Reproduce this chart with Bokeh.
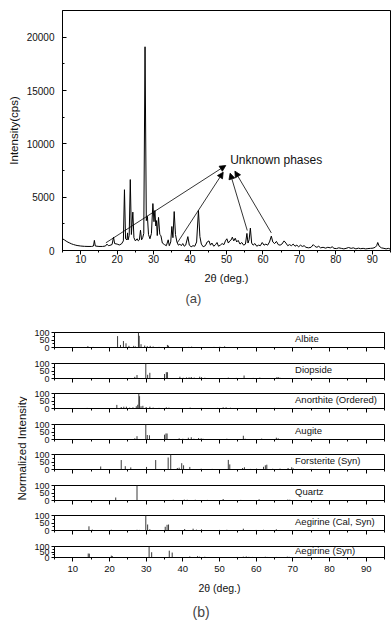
import math
from bokeh.plotting import figure
from bokeh.models import Range1d, FixedTicker, Label, Arrow, NormalHead, Title, ColumnDataSource
from bokeh.layouts import column, row
from bokeh.embed import file_html
from bokeh.resources import INLINE
from bokeh.core.properties import value

FONT = "Liberation Sans"

# ---------------- (a) measured XRD pattern ----------------
two_theta = [5.0, 5.5, 6.0, 6.5, 7.0, 7.5, 8.0, 8.5, 9.0, 10.0, 11.0, 12.0, 13.0, 13.5, 13.75, 14.0,
             15.0, 16.0, 16.8, 17.2, 17.6, 18.0, 18.6, 19.0, 19.3, 20.0, 20.6, 21.2, 21.7, 22.0, 22.3,
             22.7, 22.85, 23.0, 23.3, 23.6, 23.9, 24.3, 24.6, 25.0, 25.5, 25.8, 26.1, 26.4, 26.7, 27.0,
             27.3, 27.65, 28.0, 28.3, 28.6, 29.0, 29.4, 29.8, 30.1, 30.35, 30.6, 30.8, 31.0, 31.35, 31.7,
             32.0, 32.4, 33.0, 33.5, 34.0, 34.3, 34.7, 35.0, 35.3, 35.65, 36.0, 36.4, 36.8, 37.2, 37.6,
             38.0, 38.4, 38.8, 39.4, 39.8, 40.3, 40.8, 41.3, 41.8, 42.3, 42.7, 43.1, 43.6, 44.2, 44.7,
             45.2, 45.6, 46.0, 46.5, 47.0, 47.4, 47.8, 48.3, 48.8, 49.3, 49.7, 50.1, 50.5, 50.9, 51.3,
             51.6, 52.0, 52.4, 52.8, 53.2, 53.7, 54.2, 54.7, 55.2, 55.6, 55.9, 56.2, 56.55, 56.9, 57.3,
             57.8, 58.3, 58.8, 59.3, 59.8, 60.3, 60.8, 61.3, 61.8, 62.3, 62.7, 63.2, 63.7, 64.2, 64.7,
             65.2, 65.8, 66.3, 66.8, 67.3, 67.8, 68.3, 68.8, 69.3, 69.8, 70.3, 70.8, 71.3, 71.8, 72.5,
             73.2, 73.8, 74.3, 74.8, 75.3, 75.8, 76.5, 77.2, 77.8, 78.5, 79.0, 79.5, 80.2, 80.8, 81.5,
             82.2, 82.8, 83.5, 84.2, 84.8, 85.5, 86.2, 86.8, 87.5, 88.2, 88.8, 89.5, 90.2, 90.8, 91.2,
             91.5, 91.9, 92.5, 93.2, 93.8, 94.4, 95.0]
intensity = [1100, 1000, 880, 780, 700, 620, 560, 510, 470, 420, 390, 380, 380, 420, 950, 420,
             380, 380, 420, 600, 450, 480, 560, 1250, 650, 600, 520, 620, 900, 5700, 1100,
             1000, 1650, 1000, 1400, 6650, 1500, 3600, 1200, 900, 1100, 900, 1000, 1900, 1000, 1200,
             1600, 19100, 2800, 3200, 1500, 1100, 1600, 4400, 2700, 3750, 2300, 2800, 1400, 3100, 1500,
             1400, 700, 550, 450, 1000, 450, 800, 2250, 1200, 3650, 1500, 800, 500, 600, 450,
             650, 400, 500, 1300, 500, 350, 450, 400, 800, 3750, 1300, 600, 350, 450, 800,
             900, 500, 700, 400, 550, 750, 400, 500, 650, 550, 900, 1100, 700, 900, 1000,
             1250, 900, 1150, 800, 950, 600, 750, 500, 600, 1600, 700, 1000, 2100, 700, 500,
             650, 400, 500, 450, 750, 500, 600, 500, 800, 1350, 800, 650, 850, 550, 500,
             600, 900, 700, 450, 550, 450, 600, 400, 500, 350, 500, 380, 450, 300, 250,
             300, 550, 380, 300, 400, 250, 300, 220, 300, 250, 350, 200, 180, 250, 200,
             150, 200, 280, 200, 250, 150, 220, 170, 200, 150, 180, 200, 220, 300, 450,
             750, 400, 250, 200, 150, 200, 120]

x_major = [10, 20, 30, 40, 50, 60, 70, 80, 90]
x_minor = [5, 15, 25, 35, 45, 55, 65, 75, 85, 95]
y_major_a = [0, 5000, 10000, 15000, 20000]
y_minor_a = [2500, 7500, 12500, 17500]

annot_text = "Unknown phases"
annot_x = 51.0
annot_y = 8440
arrow_x_start = [16.9, 36.5, 55.7, 62.3]
arrow_y_start = [720, 720, 1875, 1650]
arrow_x_end = [49.8, 49.1, 51.0, 52.3]
arrow_y_end = [7970, 7340, 7250, 7440]

# ---------------- (b) reference stick patterns ----------------
phase_names = ["Albite", "Diopside", "Anorthite (Ordered)", "Augite", "Forsterite (Syn)",
               "Quartz", "Aegirine (Cal, Syn)", "Aegirine (Syn)"]

albite_pos = [14.1, 15.5, 22.2, 23.0, 23.8, 24.5, 25.3, 26.6, 27.1, 27.9, 28.1, 28.6, 29.6, 30.3, 31.1,
              31.9, 33.5, 35.8, 36.1, 37.8, 39.5, 41.6, 42.4, 44.6, 46.3, 48.5, 50.1, 51.4, 53.4, 56.2,
              60.4, 64.5, 69.8]
albite_int = [9, 4, 76, 17, 43, 28, 11, 11, 7, 100, 78, 22, 13, 9, 11,
              7, 4, 17, 12, 3, 3, 4, 6, 3, 3, 4, 5, 8, 3, 3,
              3, 2, 2]

diopside_pos = [26.9, 27.5, 29.9, 30.4, 31.0, 35.0, 35.5, 35.8, 39.2, 40.1, 41.0, 41.7, 42.3, 43.1, 44.6,
                45.1, 46.0, 48.3, 50.5, 52.4, 54.6, 56.7, 59.2, 61.0, 65.6, 66.0, 66.5, 71.4, 75.5, 85.5,
                90.6]
diopside_int = [11, 23, 100, 25, 38, 30, 42, 42, 12, 5, 7, 8, 10, 6, 12,
                9, 5, 3, 3, 6, 4, 20, 4, 6, 8, 10, 5, 3, 3, 3,
                3]

anorthite_pos = [13.9, 17.0, 19.0, 22.0, 23.2, 23.9, 24.6, 25.5, 26.4, 27.3, 27.7, 28.0, 28.2, 28.6, 29.1,
                 30.0, 31.0, 31.9, 33.5, 35.5, 36.2, 37.5, 42.0, 45.0, 49.5, 51.0, 51.8, 53.0, 57.0, 62.0,
                 65.0, 70.0, 74.0, 80.0, 86.0, 91.0]
anorthite_int = [4, 2, 3, 24, 10, 12, 12, 6, 8, 15, 25, 100, 82, 15, 18,
                 10, 12, 6, 4, 8, 6, 3, 6, 4, 4, 8, 8, 5, 3, 3,
                 4, 3, 3, 3, 3, 3]

augite_pos = [26.9, 27.5, 29.9, 30.3, 30.9, 35.0, 35.4, 35.7, 39.0, 40.0, 41.5, 42.3, 43.0, 44.3, 45.0,
              45.5, 52.0, 56.5, 57.0, 61.5, 65.5, 66.0, 91.0]
augite_int = [8, 22, 100, 30, 28, 32, 40, 40, 8, 5, 12, 15, 5, 10, 8,
              5, 5, 25, 5, 6, 12, 8, 3]

forsterite_pos = [17.6, 23.2, 24.3, 25.8, 30.1, 32.6, 36.0, 36.7, 38.5, 39.0, 39.7, 40.2, 41.9, 45.0, 48.0,
                  52.4, 52.8, 56.3, 56.8, 58.5, 60.1, 62.0, 62.5, 62.9, 64.5, 66.5, 68.7, 69.7, 70.1, 73.0,
                  75.0]
forsterite_int = [20, 63, 22, 14, 17, 63, 80, 100, 10, 12, 42, 28, 17, 5, 4,
                  64, 34, 10, 15, 4, 6, 18, 28, 32, 5, 6, 10, 15, 8, 4,
                  4]

quartz_pos = [21.7, 27.5, 37.4, 40.4, 41.2, 43.4, 46.7, 51.0, 55.8, 60.8, 64.9, 68.6, 69.0, 69.2, 74.4,
              76.6, 80.8, 82.4]
quartz_int = [20, 100, 5, 6, 5, 5, 4, 10, 4, 8, 3, 6, 4, 5, 2,
              3, 3, 3]

aegirine_cal_pos = [14.4, 15.3, 20.5, 27.5, 28.2, 29.9, 30.4, 31.0, 35.2, 35.7, 36.1, 40.5, 42.8, 43.7, 45.1,
                    50.0, 52.0, 56.5, 60.0, 62.0, 65.5, 72.0, 75.0, 80.0]
aegirine_cal_int = [28, 6, 5, 5, 4, 100, 40, 8, 25, 38, 40, 10, 12, 6, 8,
                    4, 5, 12, 4, 5, 8, 3, 3, 3]

aegirine_syn_pos = [14.2, 14.5, 20.5, 20.8, 30.8, 31.5, 36.3, 37.1, 41.9, 44.0, 44.5, 46.0, 54.8, 56.5, 57.3,
                    58.0, 59.0, 62.5, 63.0, 65.5, 68.5, 69.0, 73.0, 74.0, 76.0, 81.0, 87.0]
aegirine_syn_int = [36, 35, 17, 12, 100, 48, 62, 45, 10, 12, 8, 7, 5, 8, 10,
                    6, 5, 7, 5, 5, 8, 6, 4, 5, 4, 3, 3]

phase_pos = [albite_pos, diopside_pos, anorthite_pos, augite_pos, forsterite_pos,
             quartz_pos, aegirine_cal_pos, aegirine_syn_pos]
phase_int = [albite_int, diopside_int, anorthite_int, augite_int, forsterite_int,
             quartz_int, aegirine_cal_int, aegirine_syn_int]
y_major_b = [0, 50, 100]
y_minor_b = [25, 75]
name_x = 70.6
name_y = 62


def base_axis_style(ax):
    ax.axis_line_color = "black"
    ax.major_tick_line_color = "black"
    ax.minor_tick_line_color = "black"
    ax.major_label_text_font = FONT
    ax.major_label_text_color = "#111111"
    ax.axis_label_text_font = FONT
    ax.axis_label_text_font_style = "normal"
    ax.axis_label_text_color = "#111111"


# ---------------- figure (a) ----------------
pa = figure(width=392, height=324, x_range=Range1d(5, 95), y_range=Range1d(0, 22500),
            output_backend="svg", toolbar_location=None,
            min_border_left=62, min_border_right=2, min_border_top=10, min_border_bottom=74)
pa.grid.visible = False
pa.outline_line_color = "black"
pa.outline_line_alpha = 1.0
pa.line(two_theta, intensity, line_color="black", line_width=1)

xa = pa.xaxis[0]
base_axis_style(xa)
xa.ticker = FixedTicker(ticks=x_major, minor_ticks=x_minor)
xa.major_tick_out = 4
xa.major_tick_in = 0
xa.minor_tick_out = 2
xa.minor_tick_in = 0
xa.major_label_standoff = 0
xa.major_label_text_font_size = "10px"
xa.axis_label = "2θ (deg.)"
xa.axis_label_text_font_size = "11px"
xa.axis_label_standoff = 6

ya = pa.yaxis[0]
base_axis_style(ya)
ya.ticker = FixedTicker(ticks=y_major_a, minor_ticks=y_minor_a)
ya.major_tick_in = 4
ya.major_tick_out = 0
ya.minor_tick_in = 2
ya.minor_tick_out = 0
ya.major_label_standoff = 8
ya.major_label_text_font_size = "10px"
ya.axis_label = "Intensity(cps)"
ya.axis_label_text_font_size = "11.5px"
ya.axis_label_standoff = 4

arrow_src = ColumnDataSource(dict(x0=arrow_x_start, y0=arrow_y_start, x1=arrow_x_end, y1=arrow_y_end))
pa.add_layout(Arrow(source=arrow_src, x_start="x0", y_start="y0", x_end="x1", y_end="y1",
                    line_color="black", line_width=0.8,
                    end=NormalHead(size=6, fill_color="black", line_color="black", line_width=0.8)))
pa.add_layout(Label(x=annot_x, y=annot_y, text=annot_text, text_font=FONT, text_font_size="12px",
                    text_baseline="middle", text_align="left", text_color="#111111"))
pa.add_layout(Title(text="(a)", align="left", offset=123, text_font=FONT, text_font_size="13px",
                    text_font_style="normal", standoff=5), "below")

# ---------------- figure (b) ----------------
pl = figure(width=27, height=300, x_range=Range1d(0, 1), y_range=Range1d(0, 1),
            output_backend="svg", toolbar_location=None, x_axis_type=None, y_axis_type=None,
            min_border=0)
pl.grid.visible = False
pl.outline_line_color = None
pl.add_layout(Label(x=21, y=176, x_units="screen", y_units="screen", text="Normalized Intensity",
                    angle=math.pi / 2, text_align="center", text_baseline="middle",
                    text_font=FONT, text_font_size="11.5px", text_color="#111111"))

x_range_b = Range1d(5, 95)
panels = []
n = len(phase_names)
for i, (name, pos, inten) in enumerate(zip(phase_names, phase_pos, phase_int)):
    last = i == n - 1
    h = 86 if last else (31 if i % 2 == 0 else 30)
    p = figure(width=360, height=h, x_range=x_range_b, y_range=Range1d(0, 100),
               output_backend="svg", toolbar_location=None,
               min_border_left=27, min_border_right=3, min_border_top=8, min_border_bottom=h - 8 - 15)
    p.grid.visible = False
    p.outline_line_color = "black"
    p.outline_line_alpha = 1.0
    p.segment(x0=pos, y0=[0] * len(pos), x1=pos, y1=inten, line_color="#3a3a3a", line_width=1)
    p.text(x=[name_x], y=[name_y], text=[name], text_font=value(FONT), text_font_size=value("9.5px"),
           text_baseline="middle", text_align="left", text_color="#111111")

    bx = p.xaxis[0]
    base_axis_style(bx)
    bx.ticker = FixedTicker(ticks=x_major, minor_ticks=x_minor)
    bx.major_tick_out = 4
    bx.major_tick_in = 0
    bx.minor_tick_out = 2
    bx.minor_tick_in = 0
    if last:
        bx.major_label_standoff = 4
        bx.major_label_text_font_size = "9.5px"
        bx.axis_label = "2θ (deg.)"
        bx.axis_label_text_font_size = "10.5px"
        bx.axis_label_standoff = 7
        p.add_layout(Title(text="(b)", align="left", offset=138, text_font=FONT, text_font_size="14px",
                           text_font_style="normal", standoff=10), "below")
    else:
        bx.major_label_standoff = 0
        bx.major_label_text_font_size = "0px"
        bx.major_label_overrides = {t: "" for t in x_major}

    by = p.yaxis[0]
    base_axis_style(by)
    by.ticker = FixedTicker(ticks=y_major_b, minor_ticks=y_minor_b)
    by.major_tick_out = 3
    by.major_tick_in = 0
    by.minor_tick_out = 2
    by.minor_tick_in = 0
    by.major_label_standoff = 2
    by.major_label_text_font_size = "9px"
    panels.append(p)

layout = column(pa, row(pl, column(*panels)))

open("out.html", "w").write(file_html(layout, INLINE))
